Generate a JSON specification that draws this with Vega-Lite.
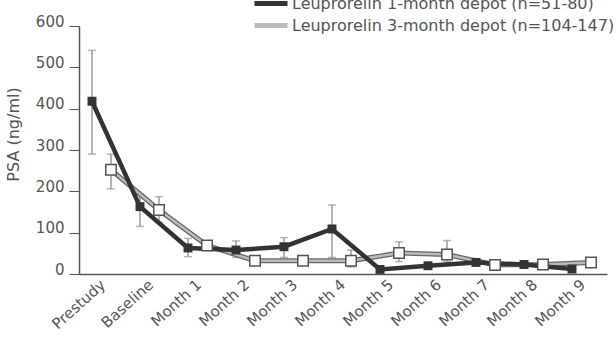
{
  "$schema": "https://vega.github.io/schema/vega-lite/v6.json",
  "width": 528,
  "height": 248,
  "autosize": {"type": "none"},
  "padding": {"left": 79, "top": 26, "right": 9, "bottom": 66},
  "background": "white",
  "config": {
    "view": {"stroke": null},
    "font": "DejaVu Sans",
    "axis": {"grid": false, "labelFont": "DejaVu Sans", "titleFont": "DejaVu Sans"},
    "legend": {"labelFont": "DejaVu Sans"}
  },
  "data": {
    "values": [
      {"time": "Prestudy", "series": "Leuprorelin 1-month depot (n=51-80)", "psa": 418, "lo": 290, "hi": 541},
      {"time": "Prestudy", "series": "Leuprorelin 3-month depot (n=104-147)", "psa": 252, "lo": 206, "hi": 290},
      {"time": "Baseline", "series": "Leuprorelin 1-month depot (n=51-80)", "psa": 163, "lo": 115, "hi": 194},
      {"time": "Baseline", "series": "Leuprorelin 3-month depot (n=104-147)", "psa": 155, "lo": 125, "hi": 187},
      {"time": "Month 1", "series": "Leuprorelin 1-month depot (n=51-80)", "psa": 63, "lo": 42, "hi": 86},
      {"time": "Month 1", "series": "Leuprorelin 3-month depot (n=104-147)", "psa": 69, "lo": 60, "hi": 78},
      {"time": "Month 2", "series": "Leuprorelin 1-month depot (n=51-80)", "psa": 58, "lo": 40, "hi": 80},
      {"time": "Month 2", "series": "Leuprorelin 3-month depot (n=104-147)", "psa": 32, "lo": 27, "hi": 38},
      {"time": "Month 3", "series": "Leuprorelin 1-month depot (n=51-80)", "psa": 66, "lo": 40, "hi": 88},
      {"time": "Month 3", "series": "Leuprorelin 3-month depot (n=104-147)", "psa": 32, "lo": 27, "hi": 38},
      {"time": "Month 4", "series": "Leuprorelin 1-month depot (n=51-80)", "psa": 109, "lo": 40, "hi": 167},
      {"time": "Month 4", "series": "Leuprorelin 3-month depot (n=104-147)", "psa": 32, "lo": 17, "hi": 58},
      {"time": "Month 5", "series": "Leuprorelin 1-month depot (n=51-80)", "psa": 11, "lo": 5, "hi": 16},
      {"time": "Month 5", "series": "Leuprorelin 3-month depot (n=104-147)", "psa": 51, "lo": 30, "hi": 78},
      {"time": "Month 6", "series": "Leuprorelin 1-month depot (n=51-80)", "psa": 20, "lo": 14, "hi": 26},
      {"time": "Month 6", "series": "Leuprorelin 3-month depot (n=104-147)", "psa": 47, "lo": 30, "hi": 81},
      {"time": "Month 7", "series": "Leuprorelin 1-month depot (n=51-80)", "psa": 28, "lo": 22, "hi": 34},
      {"time": "Month 7", "series": "Leuprorelin 3-month depot (n=104-147)", "psa": 22, "lo": 16, "hi": 28},
      {"time": "Month 8", "series": "Leuprorelin 1-month depot (n=51-80)", "psa": 23, "lo": 17, "hi": 29},
      {"time": "Month 8", "series": "Leuprorelin 3-month depot (n=104-147)", "psa": 23, "lo": 19, "hi": 28},
      {"time": "Month 9", "series": "Leuprorelin 1-month depot (n=51-80)", "psa": 12, "lo": 8, "hi": 16},
      {"time": "Month 9", "series": "Leuprorelin 3-month depot (n=104-147)", "psa": 28, "lo": 24, "hi": 33}
    ]
  },
  "encoding": {
    "x": {
      "field": "time", "type": "ordinal", "sort": null,
      "scale": {"type": "band", "paddingInner": 0, "paddingOuter": 0},
      "axis": {
        "title": null, "labelAngle": -42, "labelAlign": "right", "labelBaseline": "middle",
        "labelFontSize": 15, "labelColor": "#555", "labelPadding": 8,
        "ticks": false, "domainColor": "#555", "domainWidth": 1.5
      }
    },
    "xOffset": {
      "field": "series", "type": "nominal",
      "scale": {"type": "point", "range": [13, 32], "padding": 0}
    },
    "y": {
      "field": "psa", "type": "quantitative",
      "scale": {"domain": [0, 600], "nice": false},
      "axis": {
        "title": "PSA (ng/ml)", "titleFontSize": 16, "titleFontWeight": "normal", "titleColor": "#555",
        "titlePadding": 14, "titleY": 108,
        "values": [0, 100, 200, 300, 400, 500, 600],
        "labelFontSize": 15, "labelColor": "#555", "labelBaseline": "alphabetic",
        "tickColor": "#555", "tickSize": 10,
        "domainColor": "#555", "domainWidth": 1.5, "labelPadding": 5
      }
    }
  },
  "layer": [
    {
      "mark": {"type": "rule", "color": "#999", "strokeWidth": 1.5},
      "encoding": {"y": {"field": "lo", "type": "quantitative"}, "y2": {"field": "hi"}}
    },
    {
      "mark": {"type": "tick", "color": "#999", "size": 8, "thickness": 1.5, "orient": "horizontal"},
      "encoding": {"y": {"field": "hi", "type": "quantitative"}}
    },
    {
      "mark": {"type": "tick", "color": "#999", "size": 8, "thickness": 1.5, "orient": "horizontal"},
      "encoding": {"y": {"field": "lo", "type": "quantitative"}}
    },
    {
      "transform": [{"filter": "datum.series == 'Leuprorelin 3-month depot (n=104-147)'"}],
      "mark": {"type": "line", "color": "#666", "strokeWidth": 5},
      "encoding": {}
    },
    {
      "transform": [{"filter": "datum.series == 'Leuprorelin 3-month depot (n=104-147)'"}],
      "mark": {"type": "line", "strokeWidth": 2.5},
      "encoding": {
        "color": {
          "field": "series", "type": "nominal",
          "scale": {"domain": ["Leuprorelin 1-month depot (n=51-80)", "Leuprorelin 3-month depot (n=104-147)"], "range": ["#333", "#bbb"]},
          "legend": {
            "title": null, "orient": "none", "legendX": 173, "legendY": -34,
            "symbolType": "M-1,0H2.67", "symbolSize": 324, "symbolStrokeWidth": 5,
            "labelFontSize": 16, "labelColor": "#555", "rowPadding": -3, "labelOffset": 17,
            "labelLimit": 0, "padding": 0
          }
        }
      }
    },
    {
      "transform": [{"filter": "datum.series == 'Leuprorelin 1-month depot (n=51-80)'"}],
      "mark": {"type": "line", "strokeWidth": 4.5},
      "encoding": {"color": {"field": "series", "type": "nominal"}}
    },
    {
      "transform": [{"filter": "datum.series == 'Leuprorelin 3-month depot (n=104-147)'"}],
      "mark": {"type": "point", "shape": "square", "filled": true, "fill": "white", "stroke": "#555", "strokeWidth": 1.5, "size": 110, "opacity": 1},
      "encoding": {}
    },
    {
      "transform": [{"filter": "datum.series == 'Leuprorelin 1-month depot (n=51-80)'"}],
      "mark": {"type": "point", "shape": "square", "filled": true, "color": "#333", "size": 80, "opacity": 1},
      "encoding": {}
    }
  ]
}
